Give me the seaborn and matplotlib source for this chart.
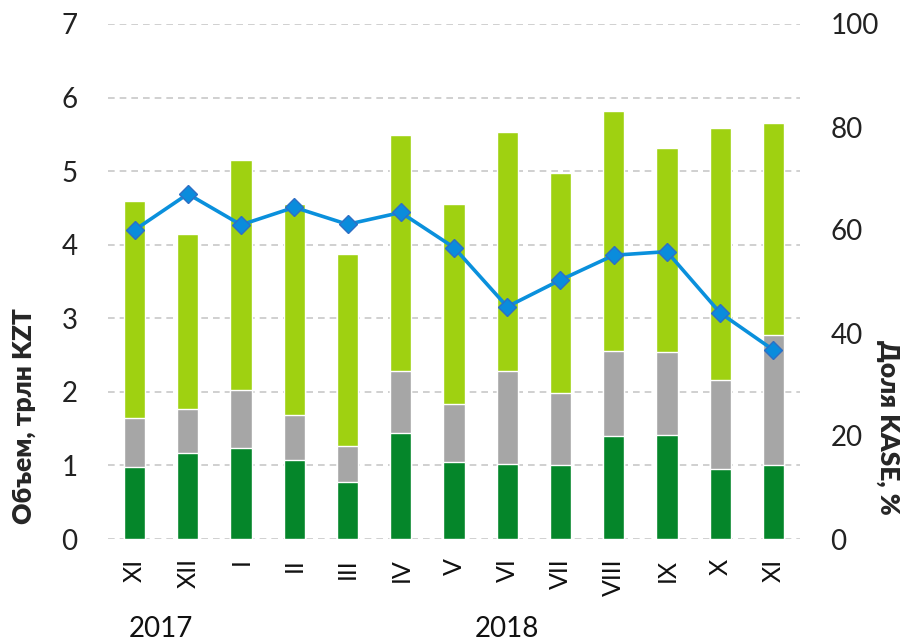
import matplotlib
matplotlib.use("Agg")
import matplotlib.pyplot as plt
import numpy as np
import pandas as pd
import seaborn as sns

# Data
months = ["XI", "XII", "I", "II", "III", "IV", "V", "VI", "VII", "VIII", "IX", "X", "XI"]
dark_part = [0.98, 1.17, 1.24, 1.07, 0.77, 1.44, 1.04, 1.02, 1.00, 1.40, 1.41, 0.95, 1.01]
gray_part = [0.66, 0.60, 0.79, 0.61, 0.49, 0.84, 0.80, 1.26, 0.99, 1.15, 1.13, 1.21, 1.76]
light_part = [2.96, 2.37, 3.12, 2.87, 2.62, 3.21, 2.72, 3.25, 2.99, 3.27, 2.78, 3.43, 2.88]
kase_share = [60.0, 67.0, 61.0, 64.4, 61.1, 63.4, 56.6, 45.1, 50.3, 55.1, 55.8, 43.9, 36.7]
years = ["2017", "2018"]
year_pos = [0.5, 7]

sns.set_style("white")
plt.rcParams["font.family"] = ["Lato", "DejaVu Sans"]

pos = np.arange(len(months))
df = pd.DataFrame({"pos": pos, "month": months})
df["dark"] = dark_part
df["gray"] = df["dark"] + np.array(gray_part)
df["total"] = df["gray"] + np.array(light_part)
df["kase"] = kase_share

fig = plt.figure(figsize=(9.08, 6.43), dpi=100)
ax = fig.add_axes([108 / 908, 1 - 539 / 643, 692 / 908, 515 / 643])

sns.barplot(data=df, x="pos", y="total", color="#9FD111", width=0.4,
            saturation=1, ax=ax, zorder=2)
sns.barplot(data=df, x="pos", y="gray", color="#A6A6A6", width=0.4,
            saturation=1, ax=ax, zorder=3)
sns.barplot(data=df, x="pos", y="dark", color="#05862A", width=0.4,
            saturation=1, ax=ax, zorder=4)

ax.set_ylim(0, 7)
ax.set_xlim(-0.5, 12.5)
ax.set_yticks(range(0, 8))
ax.yaxis.grid(True, color="#C8C8C8", linestyle=(0, (4, 3)), linewidth=1.2, zorder=0)
ax.set_axisbelow(True)
ax.set_xticks(pos)
ax.set_xticklabels(months, rotation=90, va="top", ha="center")
ax.tick_params(axis="x", length=0, pad=14, labelsize=18, labelcolor="#111111")
ax.tick_params(axis="y", length=0, pad=22, labelsize=20, labelcolor="#222222")
ax.set_xlabel("")
ax.set_ylabel("")
sns.despine(ax=ax, left=True, bottom=True)

ax2 = ax.twinx()
sns.lineplot(data=df, x="pos", y="kase", color="#0A90DC", linewidth=2.6,
             marker="D", markersize=9, markerfacecolor="#0A8CDC",
             markeredgecolor="#2F6FC4", markeredgewidth=1, ax=ax2, zorder=5)
ax2.set_ylim(0, 100)
ax2.set_yticks(range(0, 101, 20))
ax2.tick_params(axis="y", length=0, pad=22, labelsize=20, labelcolor="#222222")
ax2.set_ylabel("")
ax2.set_xlabel("")
sns.despine(ax=ax2, left=True, bottom=True, right=True)

blend = matplotlib.transforms.blended_transform_factory(ax.transData, fig.transFigure)
for yr, xp in zip(years, year_pos):
    ax.text(xp, 1 - 629 / 643, yr, transform=blend, ha="center",
            va="center", fontsize=20, color="#111111")

fig.text(24 / 908, 1 - 416 / 643, "Объем, трлн KZT", rotation=90, ha="center",
         va="center", fontsize=19, fontweight="heavy")
fig.text(888 / 908, 1 - 427 / 643, "Доля KASE, %", rotation=270, ha="center",
         va="center", fontsize=19, fontweight="heavy")

fig.savefig("out.png", dpi=100)
